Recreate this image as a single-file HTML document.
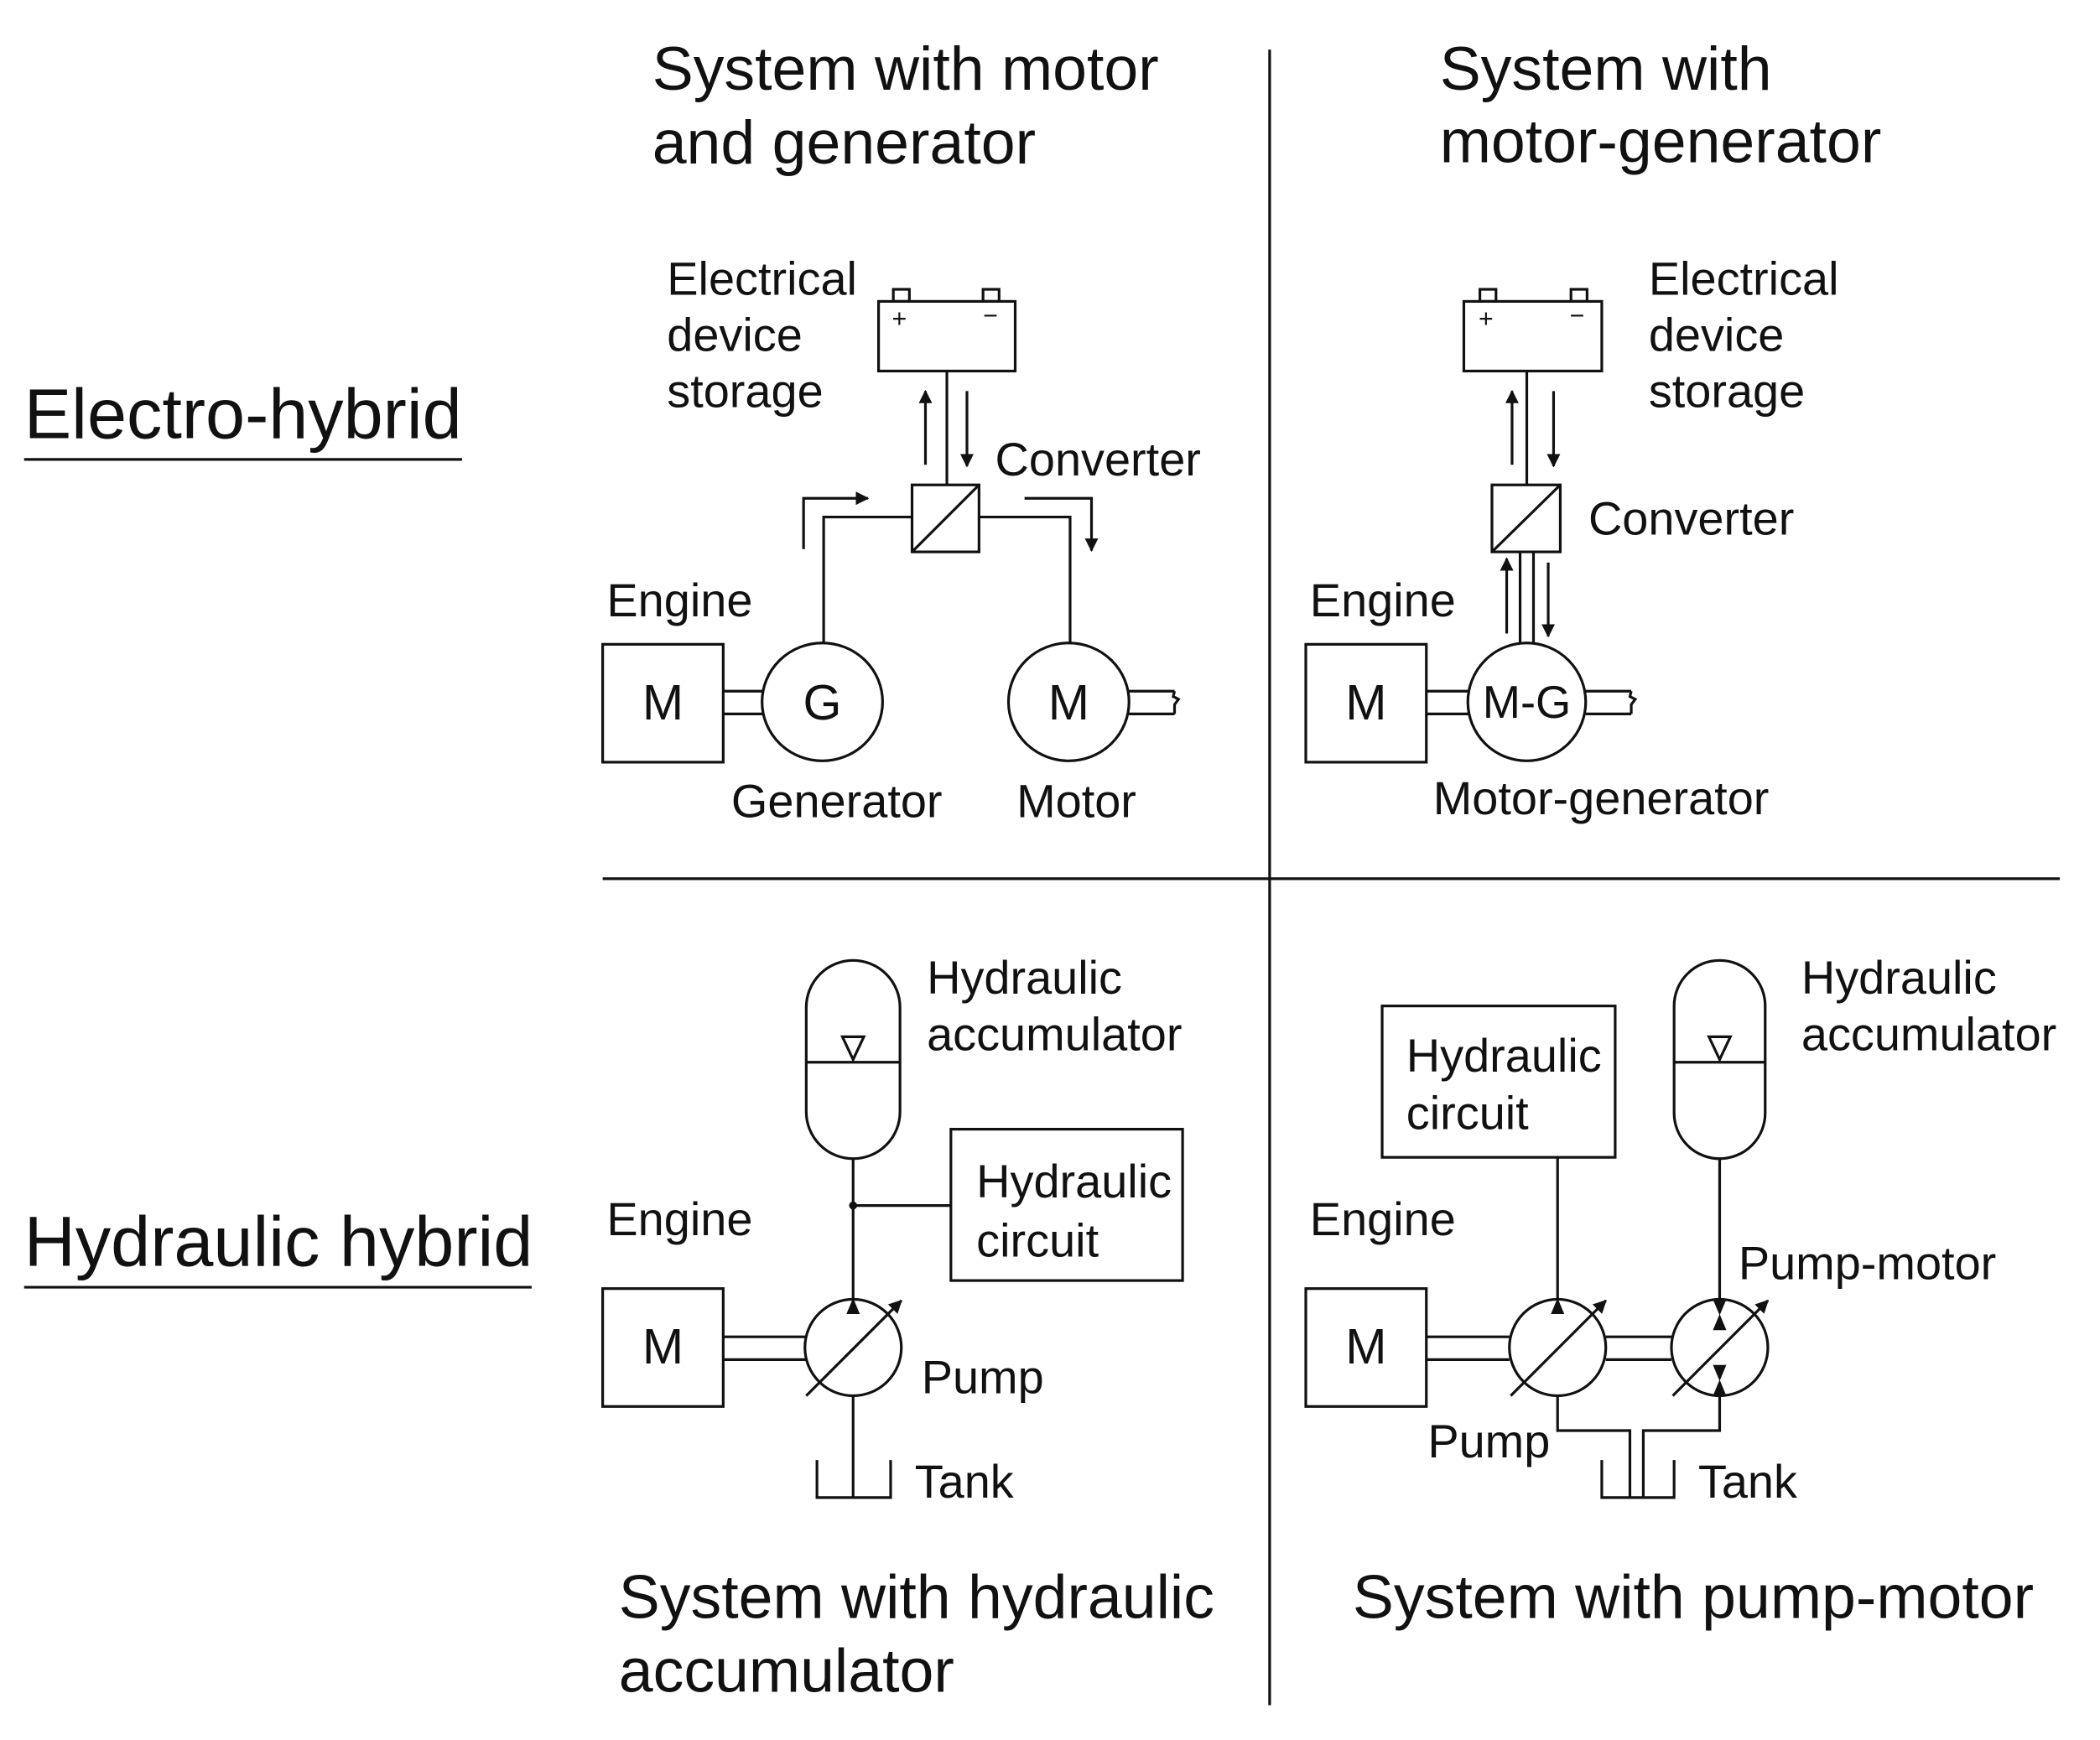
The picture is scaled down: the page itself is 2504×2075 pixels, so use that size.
<!DOCTYPE html>
<html><head><meta charset="utf-8"><style>
html,body{margin:0;padding:0;background:#fff}
svg{display:block}
text{font-family:"Liberation Sans",Arial,sans-serif;fill:#111}
</style></head><body>
<svg width="2504" height="2075" viewBox="0 0 1568 1299" preserveAspectRatio="none" xmlns="http://www.w3.org/2000/svg">
<defs>
<marker id="a" viewBox="0 0 10 10" refX="9" refY="5" markerWidth="5" markerHeight="5" orient="auto"><path d="M0,0 L10,5 L0,10 z" fill="#111"/></marker>
</defs>
<g stroke="#111" stroke-width="2" fill="none">
<line x1="948" y1="37" x2="948" y2="1273"/>
<line x1="450" y1="656" x2="1538" y2="656"/>
<line x1="18" y1="343" x2="345" y2="343"/>
<line x1="18" y1="961" x2="397" y2="961"/>

<rect x="656" y="225" width="102" height="52"/>
<rect x="667" y="216" width="12" height="9"/>
<rect x="734" y="216" width="12" height="9"/>
<line x1="707" y1="277" x2="707" y2="362"/>
<line x1="691" y1="347" x2="691" y2="292" marker-end="url(#a)"/>
<line x1="722" y1="292" x2="722" y2="348" marker-end="url(#a)"/>
<rect x="681" y="362" width="50" height="50"/>
<line x1="681" y1="412" x2="731" y2="362"/>
<polyline points="681,386 615,386 615,480"/>
<polyline points="731,386 799,386 799,480"/>
<polyline points="600,410 600,372 648,372" marker-end="url(#a)"/>
<polyline points="765,372 815,372 815,411" marker-end="url(#a)"/>
<rect x="450" y="481" width="90" height="88"/>
<line x1="540" y1="516" x2="570" y2="516"/><line x1="540" y1="533" x2="570" y2="533"/>
<ellipse cx="614" cy="524" rx="45" ry="44"/>
<ellipse cx="798" cy="524" rx="45" ry="44"/>
<line x1="843" y1="516" x2="877" y2="516"/><line x1="843" y1="533" x2="877" y2="533"/>
<path d="M877,516 L876,520 L880,522 L877,526 L877,533"/>

<rect x="1093" y="225" width="103" height="52"/>
<rect x="1105" y="216" width="12" height="9"/>
<rect x="1173" y="216" width="12" height="9"/>
<line x1="1140" y1="277" x2="1140" y2="362"/>
<line x1="1129" y1="347" x2="1129" y2="292" marker-end="url(#a)"/>
<line x1="1160" y1="292" x2="1160" y2="348" marker-end="url(#a)"/>
<rect x="1114" y="362" width="51" height="50"/>
<line x1="1114" y1="412" x2="1165" y2="362"/>
<line x1="1135" y1="412" x2="1135" y2="481"/>
<line x1="1145" y1="412" x2="1145" y2="481"/>
<line x1="1125" y1="473" x2="1125" y2="417" marker-end="url(#a)"/>
<line x1="1156" y1="420" x2="1156" y2="475" marker-end="url(#a)"/>
<rect x="975" y="481" width="90" height="88"/>
<line x1="1065" y1="516" x2="1097" y2="516"/><line x1="1065" y1="533" x2="1097" y2="533"/>
<ellipse cx="1140" cy="524" rx="44" ry="44"/>
<line x1="1184" y1="516" x2="1218" y2="516"/><line x1="1184" y1="533" x2="1218" y2="533"/>
<path d="M1218,516 L1217,520 L1221,522 L1218,526 L1218,533"/>

<rect x="602" y="717" width="70" height="148" rx="35"/>
<line x1="602" y1="793" x2="672" y2="793"/>
<path d="M629,774 L645,774 L637,791 z"/>
<line x1="637" y1="865" x2="637" y2="972"/>
<line x1="637" y1="900" x2="710" y2="900"/>
<rect x="710" y="843" width="173" height="113"/>
<rect x="450" y="962" width="90" height="88"/>
<line x1="540" y1="998" x2="602" y2="998"/><line x1="540" y1="1015" x2="602" y2="1015"/>
<circle cx="637" cy="1006" r="36"/>
<line x1="602" y1="1042" x2="673" y2="971" marker-end="url(#a)"/>
<line x1="637" y1="1042" x2="637" y2="1118"/>
<polyline points="610,1090 610,1118 665,1118 665,1090"/>

<rect x="1032" y="751" width="174" height="113"/>
<rect x="1250" y="717" width="68" height="148" rx="34"/>
<line x1="1250" y1="793" x2="1318" y2="793"/>
<path d="M1276,774 L1292,774 L1284,791 z"/>
<rect x="975" y="962" width="90" height="88"/>
<line x1="1065" y1="998" x2="1127" y2="998"/><line x1="1065" y1="1015" x2="1127" y2="1015"/>
<circle cx="1163" cy="1006" r="36"/>
<line x1="1128" y1="1042" x2="1199" y2="971" marker-end="url(#a)"/>
<line x1="1199" y1="998" x2="1248" y2="998"/><line x1="1199" y1="1015" x2="1248" y2="1015"/>
<circle cx="1284" cy="1006" r="36"/>
<line x1="1249" y1="1042" x2="1320" y2="971" marker-end="url(#a)"/>
<line x1="1163" y1="864" x2="1163" y2="970"/>
<line x1="1284" y1="865" x2="1284" y2="970"/>
<polyline points="1163,1042 1163,1068 1217,1068 1217,1118"/>
<polyline points="1284,1042 1284,1068 1227,1068 1227,1118"/>
<polyline points="1196,1090 1196,1118 1250,1118 1250,1090"/>
</g>
<g fill="#111">
<path d="M632,981 L642,981 L637,969 z"/>
<path d="M1158,981 L1168,981 L1163,969 z"/>
<path d="M1279,970 L1289,970 L1284,982 z"/>
<path d="M1279,993 L1289,993 L1284,981 z"/>
<path d="M1279,1042 L1289,1042 L1284,1030 z"/>
<path d="M1279,1019 L1289,1019 L1284,1031 z"/>
<circle cx="637" cy="900" r="3"/>
</g>
<g font-size="19">
<text x="666" y="244">+</text><text x="734" y="242">−</text>
<text x="1104" y="244">+</text><text x="1172" y="242">−</text>
</g>
<g font-size="46">
<text x="487" y="67">System with motor</text>
<text x="487" y="122">and generator</text>
<text x="1075" y="67">System with</text>
<text x="1075" y="121">motor-generator</text>
<text x="462" y="1208">System with hydraulic</text>
<text x="462" y="1263">accumulator</text>
<text x="1010" y="1208">System with pump-motor</text>
</g>
<g font-size="53">
<text x="18" y="327">Electro-hybrid</text>
<text x="18" y="945">Hydraulic hybrid</text>
</g>
<g font-size="35">
<text x="498" y="220">Electrical</text><text x="498" y="262">device</text><text x="498" y="304">storage</text>
<text x="743" y="355">Converter</text>
<text x="453" y="460">Engine</text>
<text x="546" y="610">Generator</text>
<text x="759" y="610">Motor</text>
<text x="1231" y="220">Electrical</text><text x="1231" y="262">device</text><text x="1231" y="304">storage</text>
<text x="1186" y="399">Converter</text>
<text x="978" y="460">Engine</text>
<text x="1070" y="608">Motor-generator</text>
<text x="692" y="742">Hydraulic</text><text x="692" y="784">accumulator</text>
<text x="729" y="894">Hydraulic</text><text x="729" y="938">circuit</text>
<text x="453" y="922">Engine</text>
<text x="688" y="1040">Pump</text>
<text x="683" y="1118">Tank</text>
<text x="1050" y="800">Hydraulic</text><text x="1050" y="843">circuit</text>
<text x="1345" y="742">Hydraulic</text><text x="1345" y="784">accumulator</text>
<text x="978" y="922">Engine</text>
<text x="1298" y="955">Pump-motor</text>
<text x="1066" y="1088">Pump</text>
<text x="1268" y="1118">Tank</text>
</g>
<g font-size="37" text-anchor="middle">
<text x="495" y="537">M</text>
<text x="614" y="537">G</text>
<text x="798" y="537">M</text>
<text x="1020" y="537">M</text>
<text x="1140" y="536" font-size="34">M-G</text>
<text x="495" y="1018">M</text>
<text x="1020" y="1018">M</text>
</g>
</svg>
</body></html>
